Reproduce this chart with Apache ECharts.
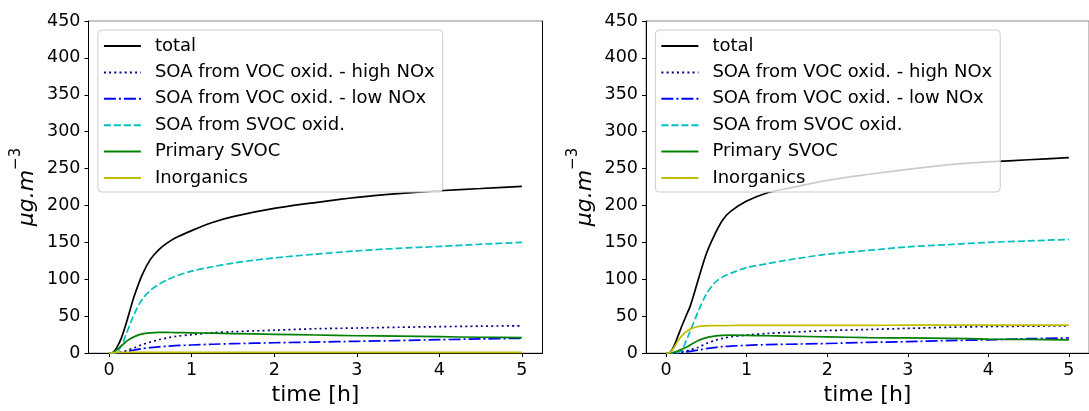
<!DOCTYPE html>
<html>
<head>
<meta charset="utf-8">
<script src="https://cdn.jsdelivr.net/npm/echarts@6/dist/echarts.min.js"></script>
<style>
  html, body { margin: 0; padding: 0; background: #fff; }
  #chart { width: 1089px; height: 411px; }
</style>
</head>
<body>
<div id="chart"></div>
<script>
// ---- data ----
const time = [0, 0.05, 0.1, 0.15, 0.2, 0.25, 0.3, 0.4, 0.5, 0.6, 0.7, 0.8, 1, 1.25, 1.5, 2, 2.5, 3, 3.5, 4, 4.5, 5];
const xTicks = [0, 1, 2, 3, 4, 5];
const seriesNames = ['total', 'SOA from VOC oxid. - high NOx', 'SOA from VOC oxid. - low NOx', 'SOA from SVOC oxid.', 'Primary SVOC', 'Inorganics'];

// left panel
const totalA   = [0, 1, 9, 21, 38, 57, 76, 106, 127, 140, 149, 156, 166, 177, 185, 196, 204, 211, 216, 220, 223, 226];
const highNoxA = [0, 0, 0.5, 1.5, 3, 5, 7, 11.5, 15, 18, 20.5, 22.5, 25, 27.5, 29, 31, 33, 34, 35, 35.8, 36.5, 37];
const lowNoxA  = [0, 0, 0.3, 1, 2, 3, 4, 6, 7.5, 8.5, 9.3, 10, 11, 12, 12.8, 14, 15, 16, 17, 18.2, 19.2, 20];
const svocOxA  = [0, 0, 2, 10, 24, 38, 52, 73, 85, 93, 99, 104, 111, 117, 122, 129, 134, 138.5, 142, 144.5, 147.5, 150];
const primA    = [0, 1, 5, 10, 15, 19, 22, 26, 27.5, 28, 28, 27.8, 27.5, 27, 26.5, 25.5, 24.5, 23.5, 23, 22.2, 21.5, 21];
const inorgA   = [0, 0.5, 1, 1, 1, 1, 1, 1, 1, 1, 1, 1, 1, 1, 1, 1, 1, 1, 1, 1, 1, 1];

// right panel
const totalB   = [0, 1, 10, 24, 38, 51, 64, 100, 135, 160, 180, 192, 206, 217, 223, 234, 242, 249, 255, 259, 262, 265];
const highNoxB = [0, 0, 0.3, 1, 2, 3, 4.5, 8, 13, 17, 20, 22, 24.5, 26.5, 28, 30.5, 32, 33.5, 35, 36, 36.5, 37];
const lowNoxB  = [0, 0, 0.2, 0.5, 1, 1.6, 2.3, 4, 6, 7.5, 8.7, 9.5, 10.5, 11.5, 12, 13, 14.5, 15.5, 17, 18, 19.5, 20.5];
const svocOxB  = [0, 0, 0, 1, 5, 17, 30, 57, 80, 95, 103, 108, 116, 121, 126, 134, 139, 144, 147, 150, 152, 154];
const primB    = [0, 0.3, 1, 3, 5.5, 8, 11, 17, 21, 23, 24, 24.3, 24, 23.5, 23, 22, 21, 20.5, 20, 19, 18.5, 18];
const inorgB   = [0, 1, 8, 17, 24, 29, 32.5, 36, 37, 37.2, 37.3, 37.4, 37.5, 37.5, 37.6, 37.7, 37.7, 37.8, 37.8, 37.9, 38, 38];

// ---- styles ----
const colors = ['#000000', '#00008b', '#0000ff', '#00bfbf', '#008000', '#bfbf00'];
const dashes = ['solid', [2, 3.2], [12, 3, 2, 3], [7, 3], 'solid', 'solid'];
const FONT = 'DejaVu Sans';

const panels = [
  { left: 88.5, values: [totalA, highNoxA, lowNoxA, svocOxA, primA, inorgA] },
  { left: 646, values: [totalB, highNoxB, lowNoxB, svocOxB, primB, inorgB] }
];
const W = 454, TOP = 21, H = 338;

const grids = [], xAxes = [], yAxes = [], series = [], legends = [];
panels.forEach((p, gi) => {
  grids.push({ left: p.left, top: TOP, width: W, height: H, show: true, borderColor: '#888', borderWidth: 1, backgroundColor: 'transparent' });
  xAxes.push({
    type: 'value', gridIndex: gi, min: -0.25, max: 5.25,
    name: 'time [h]', nameLocation: 'middle', nameGap: 30,
    nameTextStyle: { fontFamily: FONT, fontSize: 22, color: '#000' },
    axisLine: { show: true, onZero: false, lineStyle: { color: '#000', width: 1 } },
    axisTick: { show: true, length: 4, customValues: xTicks, lineStyle: { color: '#000' } },
    axisLabel: { customValues: xTicks, margin: 8, fontFamily: FONT, fontSize: 17.5, color: '#000' },
    splitLine: { show: false }
  });
  yAxes.push({
    type: 'value', gridIndex: gi, min: 0, max: 450, interval: 50,
    name: '{a|μg.m}{b|−3}', nameLocation: 'middle', nameGap: 50, nameRotate: 90,
    nameTextStyle: {
      rich: {
        a: { fontFamily: FONT, fontSize: 22, fontStyle: 'italic', color: '#000', verticalAlign: 'bottom', lineHeight: 30 },
        b: { fontFamily: FONT, fontSize: 15, color: '#000', verticalAlign: 'top', lineHeight: 30 }
      }
    },
    axisLine: { show: true, onZero: false, lineStyle: { color: '#000', width: 1 } },
    axisTick: { show: true, length: 4, lineStyle: { color: '#000' } },
    axisLabel: { margin: 8, fontFamily: FONT, fontSize: 17.5, color: '#000' },
    splitLine: { show: false }
  });
  // right spine
  yAxes.push({
    type: 'value', gridIndex: gi, position: 'right', min: 0, max: 450,
    axisLine: { show: true, onZero: false, lineStyle: { color: '#000', width: 1 } },
    axisTick: { show: false }, axisLabel: { show: false }, splitLine: { show: false }
  });
  p.values.forEach((vals, si) => {
    series.push({
      type: 'line', name: seriesNames[si], xAxisIndex: gi, yAxisIndex: gi * 2,
      data: time.map((t, i) => [t, vals[i]]),
      symbol: 'none', showSymbol: false, smooth: 0.3,
      lineStyle: { color: colors[si], width: 1.7, type: dashes[si] },
      itemStyle: { color: colors[si] },
      emphasis: { disabled: true }
    });
  });
  legends.push({
    data: seriesNames, orient: 'vertical',
    left: p.left + 9.4, top: 30,
    padding: [6, 8, 4, 5], itemGap: 6.4, itemWidth: 37, itemHeight: 20,
    backgroundColor: 'rgba(255,255,255,0.8)', borderColor: '#cccccc', borderWidth: 1, borderRadius: 4,
    itemStyle: { color: 'transparent', borderColor: 'transparent', borderWidth: 0, opacity: 0 },
    textStyle: { fontFamily: FONT, fontSize: 18, color: '#000', lineHeight: 20, padding: [0, 0, 0, 9] },
    selectedMode: false
  });
});

const chart = echarts.init(document.getElementById('chart'), null, { renderer: 'canvas' });
chart.setOption({
  animation: false,
  grid: grids, xAxis: xAxes, yAxis: yAxes, series: series, legend: legends
});
</script>
</body>
</html>
